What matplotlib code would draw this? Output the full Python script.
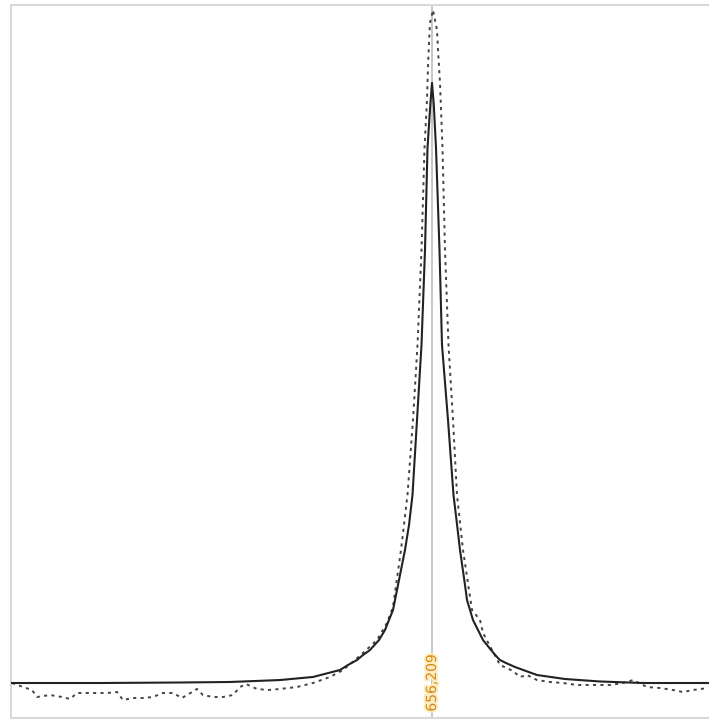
import matplotlib.pyplot as plt
import matplotlib.patheffects as pe

# H-alpha line profile: fitted curve (solid) and measured spectrum (dotted)
center_nm = 656.209

fit_wavelength = [
    654.109, 654.549, 654.949, 655.199, 655.449, 655.614, 655.749, 655.789,
    655.834, 655.864, 655.899, 655.944, 655.974, 656.014, 656.029, 656.044,
    656.074, 656.094, 656.1115, 656.134, 656.1565, 656.174, 656.1865, 656.2005,
    656.209, 656.218, 656.229, 656.2465, 656.259, 656.289, 656.3165, 656.3315,
    656.349, 656.374, 656.384, 656.399, 656.414, 656.439, 656.464, 656.504,
    656.534, 656.549, 656.579, 656.624, 656.734, 656.874, 657.049, 657.264,
    657.599,
]
fit_intensity = [
    0.0551, 0.0551, 0.0559, 0.0567, 0.0598, 0.0646, 0.0756, 0.0835,
    0.0913, 0.0992, 0.1071, 0.1228, 0.1386, 0.1701, 0.1937, 0.2173,
    0.2646, 0.3039, 0.3512, 0.4693, 0.5874, 0.7370, 0.8976, 0.9654,
    1.0000, 0.9654, 0.8976, 0.7370, 0.5874, 0.4693, 0.3512, 0.3118,
    0.2646, 0.2094, 0.1858, 0.1701, 0.1543, 0.1386, 0.1228, 0.1071,
    0.0961, 0.0913, 0.0866, 0.0803, 0.0677, 0.0614, 0.0575, 0.0551,
    0.0551,
]

obs_wavelength = [
    654.109, 654.164, 654.209, 654.234, 654.299, 654.359, 654.399, 654.434,
    654.484, 654.534, 654.584, 654.634, 654.664, 654.714, 654.764, 654.814,
    654.864, 654.914, 654.959, 655.009, 655.034, 655.064, 655.114, 655.164,
    655.214, 655.249, 655.279, 655.334, 655.389, 655.449, 655.534, 655.614,
    655.699, 655.764, 655.824, 655.864, 655.934, 655.984, 656.014, 656.054,
    656.0865, 656.114, 656.1365, 656.1565, 656.1715, 656.184, 656.189, 656.194,
    656.199, 656.214, 656.234, 656.239, 656.249, 656.2615, 656.274, 656.2915,
    656.314, 656.334, 656.364, 656.409, 656.449, 656.464, 656.549, 656.614,
    656.649, 656.684, 656.734, 656.799, 656.864, 656.934, 657.014, 657.099,
    657.164, 657.214, 657.284, 657.349, 657.414, 657.464, 657.514, 657.589,
]
obs_intensity = [
    0.0551, 0.0488, 0.0441, 0.0331, 0.0362, 0.0331, 0.0299, 0.0394,
    0.0394, 0.0394, 0.0394, 0.0409, 0.0283, 0.0315, 0.0315, 0.0331,
    0.0394, 0.0394, 0.0315, 0.0409, 0.0457, 0.0362, 0.0331, 0.0331,
    0.0362, 0.0488, 0.0535, 0.0457, 0.0441, 0.0457, 0.0488, 0.0551,
    0.0646, 0.0756, 0.0913, 0.1024, 0.1228, 0.1496, 0.1748, 0.2646,
    0.3512, 0.4693, 0.5874, 0.7370, 0.8976, 0.9732, 1.0252, 1.0630,
    1.0945, 1.1150, 1.0835, 1.0520, 1.0000, 0.8976, 0.7370, 0.5874,
    0.4693, 0.3512, 0.2646, 0.1701, 0.1543, 0.1339, 0.0835, 0.0740,
    0.0646, 0.0677, 0.0598, 0.0567, 0.0551, 0.0520, 0.0520, 0.0520,
    0.0551, 0.0598, 0.0488, 0.0472, 0.0441, 0.0409, 0.0441, 0.0472,
]

fig = plt.figure(figsize=(7.09, 7.22), dpi=100)
ax = fig.add_axes([11 / 709, 4 / 722, 700 / 709, 713 / 722])

ax.axvline(center_nm, color='#bdbdbd', lw=1.2, zorder=1)
ax.plot(obs_wavelength, obs_intensity, color='#444444', lw=1.4,
        linestyle=(0, (1.6, 2.2)), zorder=2)
ax.plot(fit_wavelength, fit_intensity, color='#222222', lw=1.5, zorder=3,
        solid_joinstyle='round')

ax.text(center_nm, 0.0551, '656,209', rotation=90, ha='center', va='center',
        fontsize=10, color='#d48a1c', zorder=4,
        path_effects=[pe.withStroke(linewidth=3, foreground='#fdecc0')])

ax.set_xlim(654.104, 657.604)
ax.set_ylim(0, 1.1228)
ax.set_xticks([])
ax.set_yticks([])
for side in ax.spines.values():
    side.set_color('#d9d9d9')
    side.set_linewidth(1.5)

plt.savefig('out.png', dpi=100)
plt.close()
